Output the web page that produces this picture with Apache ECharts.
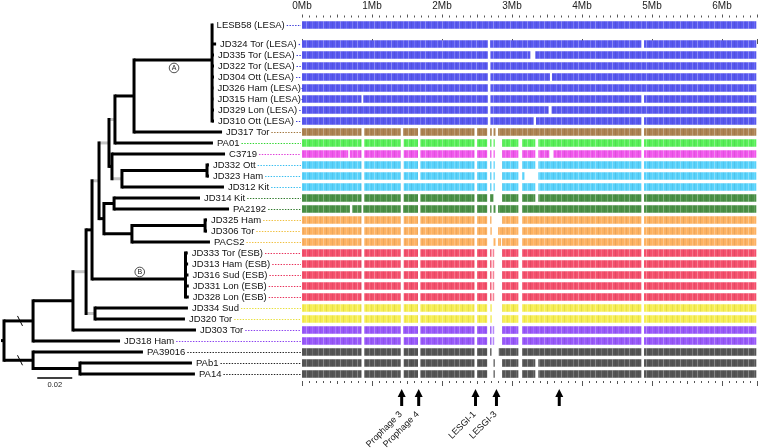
<!DOCTYPE html>
<html><head><meta charset="utf-8">
<script src="https://cdn.jsdelivr.net/npm/echarts@6/dist/echarts.min.js"></script>
<style>html,body{margin:0;padding:0;background:#fff}#c{width:760px;height:448px}</style>
</head><body><div id="c"></div><script>
// ---------- DATA ----------
const ROW_NAMES = ['LESB58 (LESA)','JD324 Tor (LESA)','JD335 Tor (LESA)','JD322 Tor (LESA)','JD304 Ott (LESA)','JD326 Ham (LESA)','JD315 Ham (LESA)','JD329 Lon (LESA)','JD310 Ott (LESA)','JD317 Tor','PA01','C3719','JD332 Ott','JD323 Ham','JD312 Kit','JD314 Kit','PA2192','JD325 Ham','JD306 Tor','PACS2','JD333 Tor (ESB)','JD313 Ham (ESB)','JD316 Sud (ESB)','JD331 Lon (ESB)','JD328 Lon (ESB)','JD334 Sud','JD320 Tor','JD303 Tor','JD318 Ham','PA39016','PAb1','PA14'];
const ROW_POS = [-1.727,0,1,2,3,4,5,6,7,8,9,10,11,12,13,14,15,16,17,18,19,20,21,22,23,24,25,26,27,28,29,30];
const ROW_GROUP = ['LESA','LESA','LESA','LESA','LESA','LESA','LESA','LESA','LESA','brown','green','magenta','cyan','cyan','cyan','dkgreen','dkgreen','orange','orange','orange','red','red','red','red','red','yellow','yellow','purple','purple','gray','gray','gray'];
const GROUP_FILL = {LESA:'#5858ef',brown:'#ad8352',green:'#58ef58',magenta:'#f058ec',cyan:'#58d2fb',dkgreen:'#4a9046',orange:'#fdb262',red:'#f4506c',yellow:'#f6ee52',purple:'#9858fa',gray:'#555555'};
const GROUP_LEADER = {LESA:'#3b3bd6',brown:'#a0743c',green:'#2fd62f',magenta:'#e03cd8',cyan:'#36bdf0',dkgreen:'#2f7a2a',orange:'#f0c040',red:'#e8305a',yellow:'#e8e03a',purple:'#8a40f0',gray:'#222222'};

// aligned segments (Mb) per row, same order as ROW_NAMES
const SEGMENTS = [
 [[0,6.49]],
 [[0,2.654],[2.688,4.848],[4.886,6.49]],
 [[0,2.654],[2.692,3.262],[3.333,6.49]],
 [[0,2.654],[2.692,6.49]],
 [[0,2.654],[2.692,3.542],[3.571,6.49]],
 [[0,2.654],[2.692,6.49]],
 [[0,0.85],[0.874,2.654],[2.692,4.848],[4.886,6.49]],
 [[0,2.654],[2.692,3.523],[3.566,6.49]],
 [[0,2.654],[2.692,3.31],[3.343,4.848],[4.886,6.49]],
 [[0,0.85],[0.89,1.41],[1.443,1.657],[1.69,2.464],[2.502,2.645],[2.688,2.711],[2.735,2.764],[2.801,4.848],[4.886,6.49]],
 [[0,0.85],[0.89,1.41],[1.453,1.657],[1.69,2.464],[2.502,2.645],[2.688,2.707],[2.735,2.754],[2.859,3.091],[3.143,3.333],[3.376,4.848],[4.886,6.49]],
 [[0,0.66],[0.684,0.85],[0.89,1.41],[1.453,1.657],[1.69,2.464],[2.502,2.645],[2.688,2.707],[2.735,2.754],[2.859,3.091],[3.143,3.333],[3.376,3.533],[3.594,4.848],[4.886,6.49]],
 [[0,0.85],[0.89,1.41],[1.453,1.657],[1.69,2.464],[2.502,2.645],[2.688,2.707],[2.735,2.754],[2.859,3.091],[3.143,3.333],[3.376,4.848],[4.886,6.49]],
 [[0,0.85],[0.89,1.41],[1.453,1.657],[1.69,2.464],[2.502,2.645],[2.688,2.707],[2.735,2.754],[2.859,3.091],[3.143,3.177],[3.376,4.848],[4.886,6.49]],
 [[0,0.85],[0.89,1.41],[1.453,2.464],[2.502,2.645],[2.688,2.707],[2.735,2.754],[2.859,3.091],[3.143,3.333],[3.376,4.848],[4.886,6.49]],
 [[0,0.85],[0.89,1.41],[1.453,1.657],[1.69,2.464],[2.502,2.645],[2.688,2.735],[2.859,3.091],[3.143,3.333],[3.376,4.848],[4.886,6.49]],
 [[0,0.684],[0.717,0.85],[0.874,1.41],[1.443,1.657],[1.69,2.464],[2.502,2.645],[2.688,2.707],[2.735,2.764],[2.801,3.091],[3.143,4.848],[4.886,6.49]],
 [[0,0.85],[0.89,1.41],[1.453,1.657],[1.69,2.464],[2.502,2.645],[2.688,2.707],[2.859,3.091],[3.143,4.848],[4.886,6.49]],
 [[0,0.85],[0.89,1.41],[1.453,1.657],[1.69,2.464],[2.502,2.645],[2.692,2.711],[2.801,3.091],[3.143,4.848],[4.886,6.49]],
 [[0,0.85],[0.89,1.41],[1.453,1.657],[1.69,2.464],[2.502,2.645],[2.735,2.764],[2.801,2.844],[2.859,3.091],[3.143,4.848],[4.886,6.49]],
 [[0,0.85],[0.89,1.41],[1.453,1.657],[1.69,2.464],[2.502,2.645],[2.688,2.707],[2.725,2.745],[2.859,3.091],[3.143,4.848],[4.886,6.49]],
 [[0,0.85],[0.89,1.41],[1.453,1.657],[1.69,2.464],[2.502,2.645],[2.688,2.707],[2.725,2.745],[2.859,3.091],[3.143,4.848],[4.886,6.49]],
 [[0,0.85],[0.89,1.41],[1.453,1.657],[1.69,2.464],[2.502,2.645],[2.688,2.707],[2.725,2.745],[2.859,3.091],[3.143,4.848],[4.886,6.49]],
 [[0,0.85],[0.89,1.41],[1.453,1.657],[1.69,2.464],[2.502,2.645],[2.688,2.707],[2.725,2.745],[2.859,3.091],[3.143,4.848],[4.886,6.49]],
 [[0,0.85],[0.89,1.41],[1.453,1.657],[1.69,2.464],[2.502,2.645],[2.688,2.707],[2.725,2.745],[2.859,3.091],[3.143,4.848],[4.886,6.49]],
 [[0,0.85],[0.89,1.41],[1.453,1.657],[1.69,2.464],[2.502,2.645],[2.692,2.711],[2.859,3.091],[3.143,4.848],[4.886,6.49]],
 [[0,0.85],[0.89,1.41],[1.453,1.657],[1.69,2.464],[2.502,2.645],[2.692,2.711],[2.859,3.091],[3.143,4.848],[4.886,6.49]],
 [[0,0.85],[0.89,1.41],[1.443,1.657],[1.69,2.464],[2.502,2.645],[2.688,2.707],[2.725,2.745],[2.859,3.091],[3.143,4.848],[4.886,6.49]],
 [[0,0.85],[0.89,1.41],[1.453,1.657],[1.69,2.464],[2.502,2.645],[2.688,2.707],[2.725,2.745],[2.859,3.091],[3.143,4.848],[4.886,6.49]],
 [[0,0.85],[0.89,1.41],[1.453,1.657],[1.69,2.464],[2.502,2.645],[2.688,2.707],[2.811,3.091],[3.143,4.848],[4.886,6.49]],
 [[0,0.85],[0.89,1.41],[1.453,1.657],[1.69,2.464],[2.502,2.645],[2.735,2.754],[2.859,3.091],[3.143,3.333],[3.376,4.848],[4.886,6.49]],
 [[0,0.85],[0.89,1.41],[1.453,1.657],[1.69,2.464],[2.502,2.645],[2.735,2.754],[2.859,3.091],[3.143,3.333],[3.376,4.848],[4.886,6.49]]
];

// genomic markers (Mb) below the alignment
const ARROW_POS = [1.424, 1.667, 2.479, 2.778, 3.675];
const ARROW_LABELS = ['Prophage 3','Prophage 4','LESGI-1','LESGI-3',''];

// tree: [id, parent, distance from root, low-support(grey) branch]
const TREE = [
 ['root',null,0,0],
 ['N11','root',0.0166,0], ['N12','root',0.0166,0],
 ['N10','N11',0.0394,0], ['JD318 Ham','N11',0.0663,0],
 ['N9','N10',0.0469,1], ['JD303 Tor','N10',0.1097,0],
 ['N7','N9',0.0503,0], ['N8','N9',0.0520,1],
 ['JD334 Sud','N8',0.1051,0], ['JD320 Tor','N8',0.1034,0],
 ['N3','N7',0.0543,1], ['NB','N7',0.1037,0],
 ['JD333 Tor (ESB)','NB',0.1050,0], ['JD313 Ham (ESB)','NB',0.1052,0], ['JD316 Sud (ESB)','NB',0.1054,0], ['JD331 Lon (ESB)','NB',0.1056,0], ['JD328 Lon (ESB)','NB',0.1056,0],
 ['N1','N3',0.0600,1], ['N4','N3',0.0571,0],
 ['NAP','N1',0.0634,1], ['N2','N1',0.0617,0],
 ['NAJ','NAP',0.0743,0], ['PA01','NAP',0.1194,0],
 ['NA','NAJ',0.1189,0], ['JD317 Tor','NAJ',0.1246,0],
 ['LESB58 (LESA)','NA',0.1192,0], ['JD324 Tor (LESA)','NA',0.1212,0], ['JD335 Tor (LESA)','NA',0.1200,0], ['JD322 Tor (LESA)','NA',0.1200,0], ['JD304 Ott (LESA)','NA',0.1200,0], ['JD326 Ham (LESA)','NA',0.1197,0], ['JD315 Ham (LESA)','NA',0.1197,0], ['JD329 Lon (LESA)','NA',0.1200,0], ['JD310 Ott (LESA)','NA',0.1200,0],
 ['C3719','N2',0.1263,0], ['NC','N2',0.0674,1],
 ['NC2','NC',0.1160,0], ['JD312 Kit','NC',0.1257,0],
 ['JD332 Ott','NC2',0.1171,0], ['JD323 Ham','NC2',0.1171,0],
 ['N5','N4',0.0629,0], ['N6','N4',0.0731,0],
 ['JD314 Kit','N5',0.1120,0], ['PA2192','N5',0.1286,0],
 ['NO','N6',0.1149,0], ['PACS2','N6',0.1177,0],
 ['JD325 Ham','NO',0.1160,0], ['JD306 Tor','NO',0.1160,0],
 ['PA39016','N12',0.0794,0], ['N13','N12',0.0434,0],
 ['PAb1','N13',0.1074,0], ['PA14','N13',0.1091,0]
];
// clade node heights (row units) where they are not centred
const NODE_Y_OVERRIDE = {NA: 1.45, NB: 21.36};
const CLADE_MARKS = [['NA','A'],['NB','B']];
const SCALE_BAR = {from: 0.019, len: 0.02, row: 30.36, label: '0.02'};

// ---------- BUILD ----------
const FONT = 'Arial, "Liberation Sans", sans-serif';
const LABEL_FONT = '9.5px ' + FONT;
const Y_MIN = -2.409, Y_MAX = 30.636;
const nodes = {};
TREE.forEach(t => nodes[t[0]] = {id:t[0], parent:t[1], d:t[2], grey:t[3], kids:[]});
TREE.forEach(t => { if (t[1]) nodes[t[1]].kids.push(nodes[t[0]]); });
function setY(n){
  const ri = ROW_NAMES.indexOf(n.id);
  if (ri >= 0) { n.row = ri; n.y = ROW_POS[ri]; return n.y; }
  const ys = n.kids.map(setY);
  n.minY = Math.min(...ys); n.maxY = Math.max(...ys);
  n.y = (n.id in NODE_Y_OVERRIDE) ? NODE_Y_OVERRIDE[n.id] : (n.minY + n.maxY) / 2;
  return n.y;
}
setY(nodes.root);
const NODE_LIST = TREE.map(t => nodes[t[0]]);

const mctx = document.createElement('canvas').getContext('2d');
mctx.font = LABEL_FONT;

// stripe texture overlay for the alignment blocks
const tex = document.createElement('canvas');
tex.width = 17; tex.height = 10;
(function(){
  const g = tex.getContext('2d');
  const stripes = [[0,'rgba(255,255,255,0.30)'],[3,'rgba(0,0,0,0.08)'],[6,'rgba(255,255,255,0.14)'],[9,'rgba(0,0,0,0.06)'],[12,'rgba(255,255,255,0.2)'],[14,'rgba(0,0,0,0.05)']];
  stripes.forEach(s => { g.fillStyle = s[1]; g.fillRect(s[0], 0, 1, 10); });
})();

function renderTree(params, api){
  const n = NODE_LIST[params.dataIndex];
  const els = [];
  const p = api.coord([n.d, n.y]);
  if (n.parent) {
    const pp = api.coord([nodes[n.parent].d, n.y]);
    els.push({type:'line', z2:1, shape:{x1:pp[0], y1:p[1], x2:p[0], y2:p[1]},
      style:{stroke: n.grey ? '#c4c4c4' : '#000', lineWidth:3}});
    if (n.parent === 'root') {
      const bx = pp[0] + 16;
      els.push({type:'line', z2:5, shape:{x1:bx-2.5, y1:p[1]-5, x2:bx+2.5, y2:p[1]+5}, style:{stroke:'#000', lineWidth:1}});
    }
  } else {
    els.push({type:'line', z2:1, shape:{x1:p[0]-3, y1:p[1], x2:p[0], y2:p[1]}, style:{stroke:'#000', lineWidth:3}});
  }
  if (n.kids.length) {
    const a = api.coord([n.d, n.minY]), b = api.coord([n.d, n.maxY]);
    els.push({type:'line', z2:2, shape:{x1:a[0], y1:a[1], x2:b[0], y2:b[1]},
      style:{stroke:'#000', lineWidth:3, lineCap:'square'}});
  } else {
    const name = n.id;
    const tx = p[0] + 4;
    const w = mctx.measureText(name).width;
    const right = params.coordSys.x + params.coordSys.width;
    els.push({type:'text', z2:3, style:{x:tx, y:p[1]+0.5, text:name, fill:'#111', font:LABEL_FONT, textAlign:'left', textVerticalAlign:'middle'}});
    els.push({type:'line', z2:3, shape:{x1:tx + w + 2, y1:p[1]+0.5, x2:right - 1, y2:p[1]+0.5},
      style:{stroke: GROUP_LEADER[ROW_GROUP[n.row]], lineWidth:1.2, lineDash:[1.4,1.4]}});
  }
  CLADE_MARKS.forEach(c => {
    if (c[0] === n.id) {
      const pp = api.coord([nodes[n.parent].d, n.y]);
      const cx = (pp[0] + p[0]) / 2 + 1;
      const cy = p[1] + (n.id === 'NA' ? 8 : -7);
      els.push({type:'circle', z2:4, shape:{cx:cx, cy:cy, r:4.8}, style:{fill:'#fff', stroke:'#222', lineWidth:0.8}});
      els.push({type:'text', z2:5, style:{x:cx, y:cy+0.5, text:c[1], fill:'#222', font:'7px ' + FONT, textAlign:'center', textVerticalAlign:'middle'}});
    }
  });
  return {type:'group', children:els};
}

function renderScale(params, api){
  const a = api.coord([SCALE_BAR.from, SCALE_BAR.row]);
  const b = api.coord([SCALE_BAR.from + SCALE_BAR.len, SCALE_BAR.row]);
  return {type:'group', children:[
    {type:'line', shape:{x1:a[0], y1:a[1], x2:b[0], y2:b[1]}, style:{stroke:'#000', lineWidth:1.5}},
    {type:'text', style:{x:(a[0]+b[0])/2, y:a[1]+7, text:SCALE_BAR.label, fill:'#222', font:'7.5px ' + FONT, textAlign:'center', textVerticalAlign:'middle'}}
  ]};
}

const segData = [];
SEGMENTS.forEach((segs, r) => segs.forEach(s => segData.push([s[0], s[1], ROW_POS[r], r])));
function renderBar(params, api){
  const s = api.value(0), e = api.value(1), y = api.value(2), r = api.value(3);
  const a = api.coord([s, y]), b = api.coord([e, y]);
  const h = 7.6;
  const shape = {x:a[0], y:a[1]-h/2, width:Math.max(b[0]-a[0], 1), height:h};
  return {type:'group', children:[
    {type:'rect', shape:shape, style:{fill: GROUP_FILL[ROW_GROUP[r]]}},
    {type:'rect', shape:shape, style:{fill:{image:tex, repeat:'repeat'}}}
  ]};
}

function renderArrow(params, api){
  const x = api.coord([api.value(0), Y_MAX])[0];
  const yb = params.coordSys.y + params.coordSys.height;
  const label = ARROW_LABELS[params.dataIndex];
  const els = [
    {type:'polygon', shape:{points:[[x, yb+8],[x-4, yb+16],[x+4, yb+16]]}, style:{fill:'#000'}},
    {type:'rect', shape:{x:x-1.5, y:yb+15, width:3, height:10}, style:{fill:'#000'}}
  ];
  if (label) els.push({type:'text', x:x-1, y:yb+32, rotation:Math.PI/4,
    style:{x:0, y:0, text:label, fill:'#111', font:'9px ' + FONT, textAlign:'right', textVerticalAlign:'middle'}});
  return {type:'group', children:els};
}

const tickStyle = {color:'#555', width:1};
const chart = echarts.init(document.getElementById('c'), null, {renderer:'canvas'});
chart.setOption({
  animation:false,
  grid:[
    {left:4, top:17.5, width:298, height:363.5},
    {left:302, top:17.5, width:456.3, height:363.5}
  ],
  xAxis:[
    {gridIndex:0, type:'value', min:0, max:0.170286, show:false},
    {gridIndex:1, type:'value', position:'top', min:0, max:6.5, interval:1,
      axisLine:{show:false}, splitLine:{show:false},
      axisTick:{show:true, length:5, lineStyle:tickStyle},
      axisLabel:{show:true, margin:6, fontSize:10, fontFamily:FONT, color:'#222',
        formatter:v => (Math.abs(v - Math.round(v)) < 1e-6 && v < 6.5) ? Math.round(v) + 'Mb' : ''}},
    {gridIndex:1, type:'value', position:'top', min:0, max:6.5, interval:0.5,
      axisLine:{show:false}, splitLine:{show:false}, axisLabel:{show:false},
      axisTick:{show:true, length:3, lineStyle:tickStyle},
      minorTick:{show:true, splitNumber:5, length:2, lineStyle:tickStyle}},
    {gridIndex:1, type:'value', position:'bottom', min:0, max:6.5, interval:1,
      axisLine:{show:false}, splitLine:{show:false}, axisLabel:{show:false},
      axisTick:{show:true, length:5, lineStyle:tickStyle}},
    {gridIndex:1, type:'value', position:'bottom', min:0, max:6.5, interval:0.5,
      axisLine:{show:false}, splitLine:{show:false}, axisLabel:{show:false},
      axisTick:{show:true, length:3, lineStyle:tickStyle},
      minorTick:{show:true, splitNumber:5, length:2, lineStyle:tickStyle}}
  ],
  yAxis:[
    {gridIndex:0, type:'value', inverse:true, min:Y_MIN, max:Y_MAX, show:false},
    {gridIndex:1, type:'value', inverse:true, min:Y_MIN, max:Y_MAX, show:false}
  ],
  series:[
    {type:'custom', name:'tree', xAxisIndex:0, yAxisIndex:0, clip:false, silent:true,
      data:NODE_LIST.map(n => [n.d, n.y]), renderItem:renderTree},
    {type:'custom', name:'scale', xAxisIndex:0, yAxisIndex:0, clip:false, silent:true,
      data:[[SCALE_BAR.from, SCALE_BAR.row]], renderItem:renderScale},
    {type:'custom', name:'genomes', xAxisIndex:1, yAxisIndex:1, clip:false, silent:true,
      data:segData, renderItem:renderBar},
    {type:'custom', name:'markers', xAxisIndex:1, yAxisIndex:1, clip:false, silent:true,
      data:ARROW_POS.map(v => [v, Y_MAX]), renderItem:renderArrow}
  ]
});
</script></body></html>
